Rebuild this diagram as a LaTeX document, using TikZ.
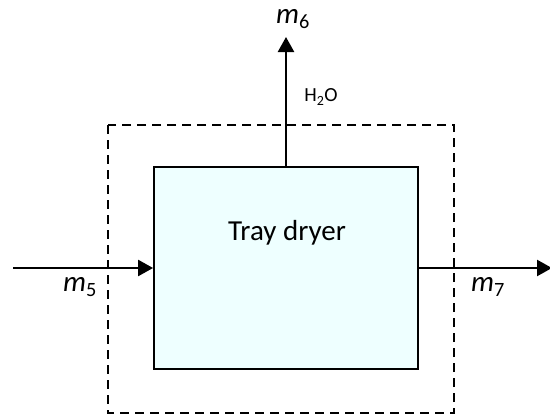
\documentclass[tikz,border=0pt]{standalone}
\usepackage{fontspec}
\setmainfont{Carlito}
\usetikzlibrary{arrows.meta}
\definecolor{dryfill}{HTML}{EEFFFF}
\tikzset{
  flow/.style={line width=2.4pt,-{Triangle[length=15pt,width=16pt]}},
  lbl/.style={inner sep=0pt,font=\fontsize{29}{31}\selectfont},
  smalllbl/.style={inner sep=0pt,font=\fontsize{20}{23}\selectfont},
}
\begin{document}
\begin{tikzpicture}[x=1pt,y=-1pt]
\useasboundingbox (0,0) rectangle (550,415);
\draw[line width=1.8pt,dash pattern=on 9pt off 6pt] (108,125) rectangle (454,413);
\node[draw,line width=1.8pt,fill=dryfill,minimum width=264pt,minimum height=202pt,inner sep=0pt] (dryer) at (286,268) {};
\node[lbl] (title) at (287,233) {Tray dryer};
\coordinate (inl) at (13,268);
\coordinate (outr) at (552,268);
\coordinate (top) at (286,37);
\draw[flow] (inl) -- (dryer.west);
\draw[flow] (dryer.east) -- (outr);
\draw[flow] (dryer.north) -- (top);
\node[lbl] (m5) at (80,287) {\itshape m\textsubscript{\upshape 5}};
\node[lbl] (m7) at (488,287) {\itshape m\textsubscript{\upshape 7}};
\node[lbl] (m6) at (293,19) {\itshape m\textsubscript{\upshape 6}};
\node[smalllbl] (h2o) at (321,97) {H\textsubscript{2}O};
\end{tikzpicture}
\end{document}
